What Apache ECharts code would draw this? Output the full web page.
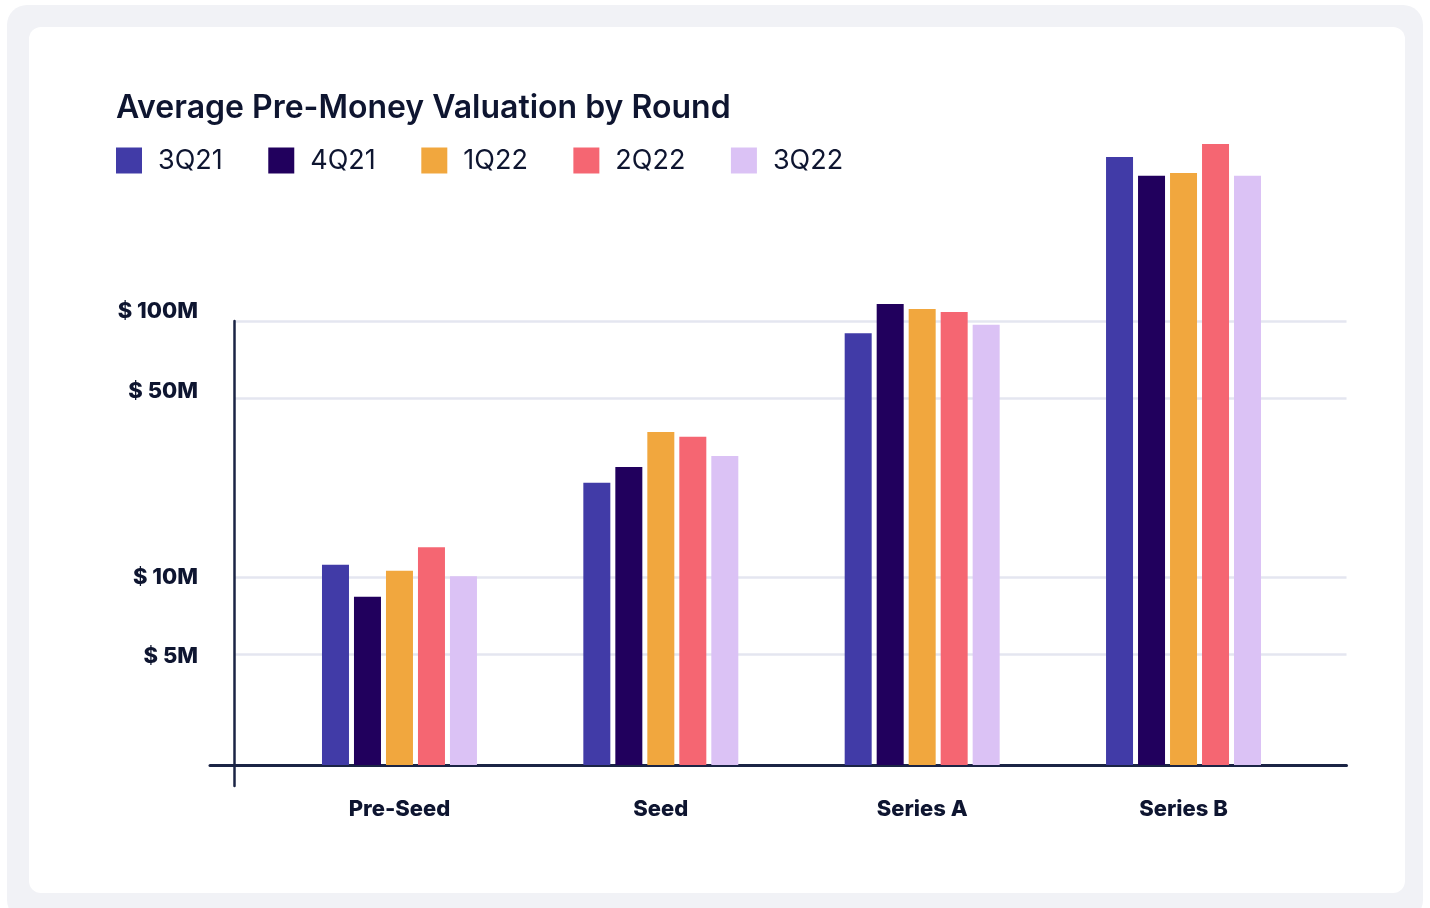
<!DOCTYPE html>
<html>
<head>
<meta charset="utf-8">
<script src="https://cdn.jsdelivr.net/npm/echarts@6/dist/echarts.min.js"></script>
<style>
  html, body { margin: 0; padding: 0; background: #ffffff; width: 1430px; height: 908px; overflow: hidden; }
  #outer { position: absolute; left: 7px; top: 5px; width: 1416px; height: 915px; background: #f1f2f6; border-radius: 20px; }
  #card { position: absolute; left: 29px; top: 27px; width: 1376px; height: 866px; background: #ffffff; border-radius: 12px; }
  #chart { position: absolute; left: 0; top: 0; width: 1430px; height: 908px; }
</style>
</head>
<body>
<div id="outer"></div>
<div id="card"></div>
<div id="chart"></div>
<script>
// ---- data (values in $M) ----
const categories = ['Pre-Seed', 'Seed', 'Series A', 'Series B'];
const seriesNames = ['3Q21', '4Q21', '1Q22', '2Q22', '3Q22'];
const v3Q21 = [11.2, 23.4, 90, 440];
const v4Q21 = [8.4, 27, 117, 371];
const v1Q22 = [10.6, 37, 112, 381];
const v2Q22 = [13.1, 35.4, 109, 494];
const v3Q22 = [10.1, 29.8, 97, 371];
const yTicks = [5, 10, 50, 100];

const colors = ['#413ba7', '#21005d', '#f1a73e', '#f56672', '#dbc2f5'];
const seriesValues = [v3Q21, v4Q21, v1Q22, v2Q22, v3Q22];
const ink = '#0e1530';
const font = 'Inter, "Noto Sans", sans-serif';

const yMin = 1.845, yMax = 500;
const gTop = 142.7, gBottom = 143;

const chart = echarts.init(document.getElementById('chart'), null, { renderer: 'canvas' });

const labelStyle = { fontFamily: font, fontSize: 22, fontWeight: 800, color: ink };

const option = {
  backgroundColor: 'transparent',
  animation: false,
  color: colors,
  title: {
    text: 'Average Pre-Money Valuation by Round',
    left: 111, top: 87,
    textStyle: { fontFamily: font, fontSize: 32, fontWeight: 600, color: ink }
  },
  legend: {
    left: 111, top: 142,
    icon: 'rect', itemWidth: 26, itemHeight: 26, itemGap: 45.5,
    textStyle: { fontFamily: font, fontSize: 27, fontWeight: 400, color: ink, padding: [0, 0, 0, 11] },
    data: seriesNames
  },
  grid: [
    { left: 268.8, right: 115.8, top: gTop, bottom: gBottom },
    { left: 234, right: 83.5, top: gTop, bottom: gBottom },
    { left: 210, right: 83.5, top: gTop, bottom: gBottom },
    { left: 234, right: 83.5, top: 321, bottom: 122 }
  ],
  xAxis: [
    { type: 'category', gridIndex: 0, data: categories,
      axisLine: { show: false }, axisTick: { show: false },
      axisLabel: Object.assign({ margin: 33 }, labelStyle) },
    { type: 'value', gridIndex: 1, min: 0, max: 1, show: false },
    { type: 'value', gridIndex: 2, min: 0, max: 1,
      axisLine: { show: true, onZero: false, lineStyle: { color: '#1b2445', width: 3 } },
      axisTick: { show: false }, axisLabel: { show: false }, splitLine: { show: false } },
    { type: 'value', gridIndex: 3, min: 0, max: 1, show: false }
  ],
  yAxis: [
    { type: 'log', gridIndex: 0, min: yMin, max: yMax, show: false, splitLine: { show: false } },
    { type: 'log', gridIndex: 1, min: yMin, max: yMax,
      axisLine: { show: false },
      axisTick: { show: false, customValues: yTicks },
      axisLabel: Object.assign({
        customValues: yTicks, margin: 36,
        formatter: function (v) {
          const t = '$ ' + v + 'M';
          if (v === 100) return '{a|' + t + '}';
          if (v === 50) return '{b|' + t + '}';
          if (v === 5) return '{c|' + t + '}';
          return t;
        },
        rich: {
          a: Object.assign({ padding: [0, 0, 20, 0] }, labelStyle),
          b: Object.assign({ padding: [0, 0, 14, 0] }, labelStyle),
          c: Object.assign({ padding: [5, 0, 0, 0] }, labelStyle)
        }
      }, labelStyle),
      splitLine: { show: true, lineStyle: { color: '#e4e6f0', width: 2.5 } } },
    { type: 'value', gridIndex: 2, min: 0, max: 1, show: false },
    { type: 'value', gridIndex: 3, min: 0, max: 1,
      axisLine: { show: true, onZero: false, lineStyle: { color: '#1b2445', width: 2.5 } },
      axisTick: { show: false }, axisLabel: { show: false }, splitLine: { show: false } }
  ],
  series: seriesNames.map(function (name, i) {
    return {
      name: name, type: 'bar', xAxisIndex: 0, yAxisIndex: 0,
      data: seriesValues[i], barWidth: 27, barGap: '18.5%', clip: true,
      itemStyle: { color: colors[i] }
    };
  })
};
chart.setOption(option);
</script>
</body>
</html>
